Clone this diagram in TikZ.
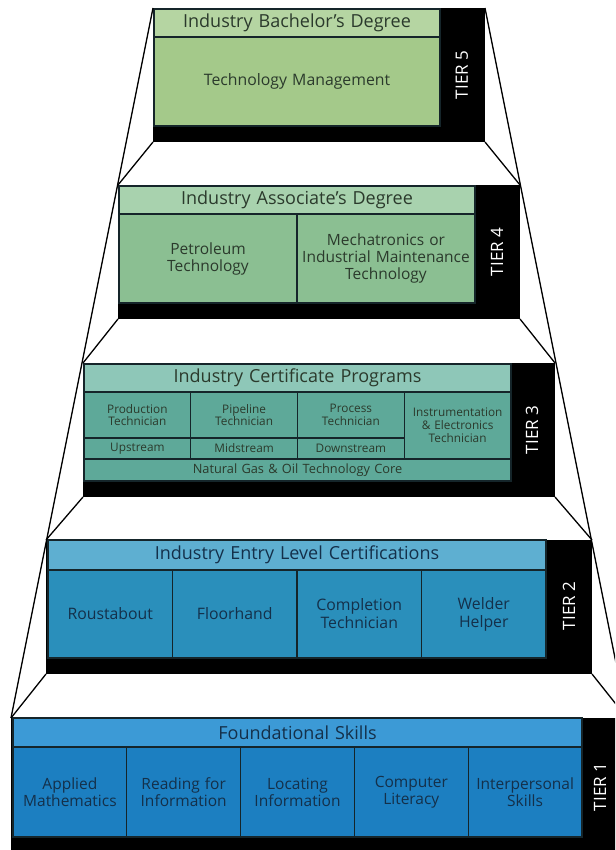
\documentclass[tikz,border=0pt]{standalone}
\usepackage{fontspec}
\setmainfont{Open Sans}
\definecolor{fivehead}{HTML}{B5D5A2}
\definecolor{fivemain}{HTML}{A4C98A}
\definecolor{fourhead}{HTML}{A8D2AE}
\definecolor{fourmain}{HTML}{8BBF92}
\definecolor{threehead}{HTML}{8EC7B8}
\definecolor{threemain}{HTML}{5EA999}
\definecolor{twohead}{HTML}{5EAFD1}
\definecolor{twomain}{HTML}{2A8FBB}
\definecolor{onehead}{HTML}{3C9AD6}
\definecolor{onemain}{HTML}{1C7FC1}
\definecolor{greentext}{HTML}{2B3A2C}
\definecolor{bluetext}{HTML}{14304A}
\definecolor{cellline}{HTML}{15252A}
\begin{document}
\begin{tikzpicture}[x=1pt,y=-1pt,
  tierbox/.style={fill=black, draw=none, rectangle, inner sep=0pt, outer sep=0pt, anchor=north west},
  cell/.style={draw=cellline, line width=1.1pt, rectangle, inner xsep=0pt, inner ysep=1pt, outer sep=0pt, anchor=north west, align=center},
  headfont/.style={font=\fontsize{18}{20}\selectfont},
  bigfont/.style={font=\fontsize{15.8}{18}\selectfont},
  midfont/.style={font=\fontsize{15.5}{17}\selectfont},
  smallfont/.style={font=\fontsize{11.8}{12.8}\selectfont},
  corefont/.style={font=\fontsize{12.8}{14}\selectfont},
  edgeline/.style={draw=black, line width=1.3pt},
  tierlabel/.style={text=white, rotate=90, font=\fontsize{17}{20}\selectfont, inner sep=0pt}
]
\useasboundingbox (0,0) rectangle (615,850);
\clip (0,0) rectangle (615,850);

% ---------- Tier 5 ----------
\node[tierbox, minimum width=332pt, minimum height=134pt] (t5) at (153,8) {};
\node[cell, fill=fivehead, text=greentext, headfont, text width=286pt, minimum height=28pt] (t5h) at (154,9) {Industry Bachelor’s Degree};
\node[cell, fill=fivemain, text=greentext, bigfont, text width=286pt, minimum height=89pt] (t5a) at (154,37) {Technology Management};
\node[tierlabel] (t5l) at (462,75) {TIER 5};

% ---------- Tier 4 ----------
\node[tierbox, minimum width=402pt, minimum height=134pt] (t4) at (118,185) {};
\node[cell, fill=fourhead, text=greentext, headfont, text width=356pt, minimum height=28pt] (t4h) at (119,186) {Industry Associate’s Degree};
\node[cell, fill=fourmain, text=greentext, midfont, text width=178pt, minimum height=89pt] (t4a) at (119,214) {Petroleum\\Technology};
\node[cell, fill=fourmain, text=greentext, midfont, text width=178pt, minimum height=89pt] (t4b) at (297,214) {Mechatronics or\\Industrial Maintenance\\Technology};
\node[tierlabel] (t4l) at (497,252) {TIER 4};

% ---------- Tier 3 ----------
\node[tierbox, minimum width=472pt, minimum height=134pt] (t3) at (83,363) {};
\node[cell, fill=threehead, text=greentext, headfont, text width=427pt, minimum height=28pt] (t3h) at (84,364) {Industry Certificate Programs};
\node[cell, fill=threemain, text=greentext, smallfont, text width=106.75pt, minimum height=46pt] (t3a) at (84,392) {Production\\Technician};
\node[cell, fill=threemain, text=greentext, smallfont, text width=106.75pt, minimum height=46pt] (t3b) at (190.75,392) {Pipeline\\Technician};
\node[cell, fill=threemain, text=greentext, smallfont, text width=106.75pt, minimum height=46pt] (t3c) at (297.5,392) {Process\\Technician};
\node[cell, fill=threemain, text=greentext, smallfont, text width=106.75pt, minimum height=67pt] (t3d) at (404.25,392) {Instrumentation\\\& Electronics\\Technician};
\node[cell, fill=threemain, text=greentext, smallfont, text width=106.75pt, minimum height=21pt] (t3e) at (84,438) {Upstream};
\node[cell, fill=threemain, text=greentext, smallfont, text width=106.75pt, minimum height=21pt] (t3f) at (190.75,438) {Midstream};
\node[cell, fill=threemain, text=greentext, smallfont, text width=106.75pt, minimum height=21pt] (t3g) at (297.5,438) {Downstream};
\node[cell, fill=threemain, text=greentext, corefont, text width=427pt, minimum height=22pt] (t3k) at (84,459) {Natural Gas \& Oil Technology Core};
\node[tierlabel] (t3l) at (532,430) {TIER 3};

% ---------- Tier 2 ----------
\node[tierbox, minimum width=546pt, minimum height=134pt] (t2) at (46,540) {};
\node[cell, fill=twohead, text=bluetext, headfont, text width=498pt, minimum height=30pt] (t2h) at (48,540) {Industry Entry Level Certifications};
\node[cell, fill=twomain, text=bluetext, bigfont, text width=124.5pt, minimum height=88pt] (t2a) at (48,570) {Roustabout};
\node[cell, fill=twomain, text=bluetext, bigfont, text width=124.5pt, minimum height=88pt] (t2b) at (172.5,570) {Floorhand};
\node[cell, fill=twomain, text=bluetext, bigfont, text width=124.5pt, minimum height=88pt] (t2c) at (297,570) {Completion\\Technician};
\node[cell, fill=twomain, text=bluetext, bigfont, text width=124.5pt, minimum height=88pt] (t2d) at (421.5,570) {Welder\\Helper};
\node[tierlabel] (t2l) at (569,606) {TIER 2};

% ---------- Tier 1 ----------
\node[tierbox, minimum width=616pt, minimum height=134pt] (t1) at (11,718) {};
\node[cell, fill=onehead, text=bluetext, headfont, text width=569pt, minimum height=29pt] (t1h) at (13,718) {Foundational Skills};
\node[cell, fill=onemain, text=bluetext, midfont, text width=113.8pt, minimum height=90pt] (t1a) at (13,747) {Applied\\Mathematics};
\node[cell, fill=onemain, text=bluetext, midfont, text width=113.8pt, minimum height=90pt] (t1b) at (126.8,747) {Reading for\\Information};
\node[cell, fill=onemain, text=bluetext, midfont, text width=113.8pt, minimum height=90pt] (t1c) at (240.6,747) {Locating\\Information};
\node[cell, fill=onemain, text=bluetext, midfont, text width=113.8pt, minimum height=90pt] (t1d) at (354.4,747) {Computer\\Literacy};
\node[cell, fill=onemain, text=bluetext, midfont, text width=113.8pt, minimum height=90pt] (t1e) at (468.2,747) {Interpersonal\\Skills};
\node[tierlabel] (t1l) at (600,787) {TIER 1};

% ---------- outline of the staircase ----------
\draw[edgeline] (t5.north west) -- (t1.north west);
\draw[edgeline] (t5.north east) -- (t1.north east);
\draw[edgeline] (t5.south west) -- (t4.north west);
\draw[edgeline] (t4.south west) -- (t3.north west);
\draw[edgeline] (t3.south west) -- (t2.north west);
\draw[edgeline] (t2.south west) -- (t1.north west);
\draw[edgeline] (t5.south east) -- (t4.north east);
\draw[edgeline] (t4.south east) -- (t3.north east);
\draw[edgeline] (t3.south east) -- (t2.north east);
\draw[edgeline] (t2.south east) -- (t1.north east);
\end{tikzpicture}
\end{document}
